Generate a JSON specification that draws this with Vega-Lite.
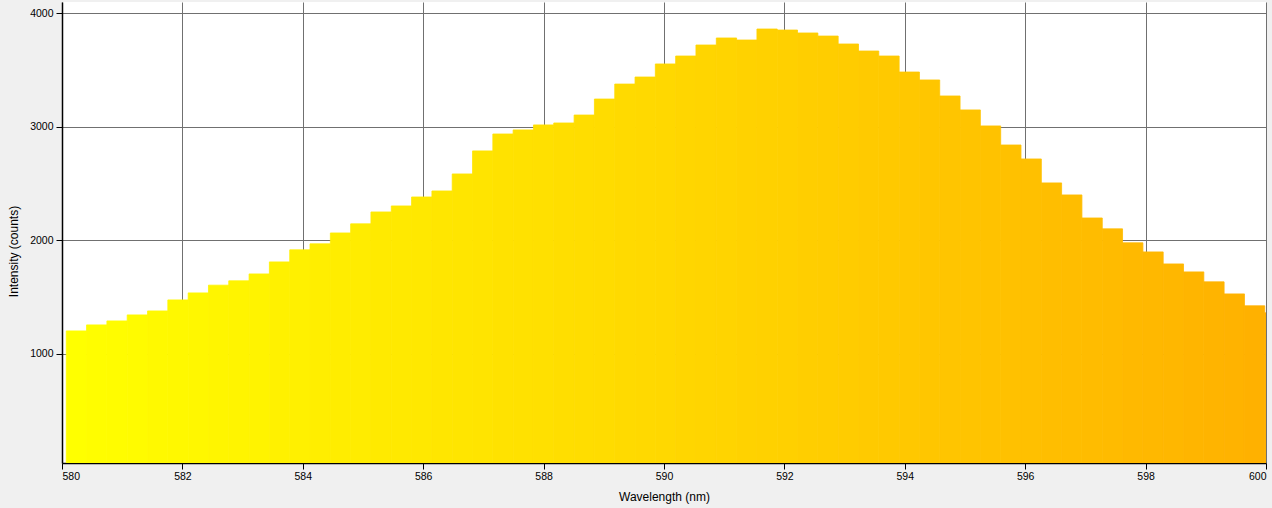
{
  "$schema": "https://vega.github.io/schema/vega-lite/v6.json",
  "width": 1204,
  "height": 461,
  "autosize": "none",
  "padding": {"left": 62, "top": 2, "right": 6, "bottom": 45},
  "background": "#f0f0f0",
  "config": {
    "view": {"fill": "white", "stroke": null},
    "font": "Liberation Sans",
    "axis": {
      "labelFont": "Liberation Sans",
      "labelFontSize": 10.5,
      "labelColor": "black",
      "titleFont": "Liberation Sans",
      "titleFontSize": 12,
      "titleFontWeight": "normal",
      "titleColor": "black",
      "domainColor": "black",
      "domainWidth": 1.5,
      "tickColor": "black",
      "tickSize": 6,
      "gridColor": "#707070",
      "gridOpacity": 1,
      "gridWidth": 1
    }
  },
  "data": {
    "values": [
      {"lo": 580.071, "hi": 580.408, "counts": 1202},
      {"lo": 580.408, "hi": 580.746, "counts": 1255},
      {"lo": 580.746, "hi": 581.083, "counts": 1290},
      {"lo": 581.083, "hi": 581.421, "counts": 1343},
      {"lo": 581.421, "hi": 581.758, "counts": 1378},
      {"lo": 581.758, "hi": 582.096, "counts": 1475},
      {"lo": 582.096, "hi": 582.433, "counts": 1537},
      {"lo": 582.433, "hi": 582.770, "counts": 1605},
      {"lo": 582.770, "hi": 583.108, "counts": 1643},
      {"lo": 583.108, "hi": 583.445, "counts": 1704},
      {"lo": 583.445, "hi": 583.783, "counts": 1810},
      {"lo": 583.783, "hi": 584.120, "counts": 1916},
      {"lo": 584.120, "hi": 584.458, "counts": 1969},
      {"lo": 584.458, "hi": 584.795, "counts": 2065},
      {"lo": 584.795, "hi": 585.132, "counts": 2145},
      {"lo": 585.132, "hi": 585.470, "counts": 2250},
      {"lo": 585.470, "hi": 585.807, "counts": 2303},
      {"lo": 585.807, "hi": 586.145, "counts": 2382},
      {"lo": 586.145, "hi": 586.482, "counts": 2435},
      {"lo": 586.482, "hi": 586.820, "counts": 2585},
      {"lo": 586.820, "hi": 587.157, "counts": 2788},
      {"lo": 587.157, "hi": 587.494, "counts": 2937},
      {"lo": 587.494, "hi": 587.832, "counts": 2973},
      {"lo": 587.832, "hi": 588.169, "counts": 3017},
      {"lo": 588.169, "hi": 588.507, "counts": 3034},
      {"lo": 588.507, "hi": 588.844, "counts": 3104},
      {"lo": 588.844, "hi": 589.182, "counts": 3245},
      {"lo": 589.182, "hi": 589.519, "counts": 3377},
      {"lo": 589.519, "hi": 589.856, "counts": 3439},
      {"lo": 589.856, "hi": 590.194, "counts": 3554},
      {"lo": 590.194, "hi": 590.531, "counts": 3624},
      {"lo": 590.531, "hi": 590.869, "counts": 3721},
      {"lo": 590.869, "hi": 591.206, "counts": 3783},
      {"lo": 591.206, "hi": 591.544, "counts": 3765},
      {"lo": 591.544, "hi": 591.881, "counts": 3862},
      {"lo": 591.881, "hi": 592.218, "counts": 3853},
      {"lo": 592.218, "hi": 592.556, "counts": 3827},
      {"lo": 592.556, "hi": 592.893, "counts": 3800},
      {"lo": 592.893, "hi": 593.231, "counts": 3730},
      {"lo": 593.231, "hi": 593.568, "counts": 3668},
      {"lo": 593.568, "hi": 593.906, "counts": 3624},
      {"lo": 593.906, "hi": 594.243, "counts": 3483},
      {"lo": 594.243, "hi": 594.580, "counts": 3413},
      {"lo": 594.580, "hi": 594.918, "counts": 3272},
      {"lo": 594.918, "hi": 595.255, "counts": 3149},
      {"lo": 595.255, "hi": 595.593, "counts": 3008},
      {"lo": 595.593, "hi": 595.930, "counts": 2840},
      {"lo": 595.930, "hi": 596.268, "counts": 2717},
      {"lo": 596.268, "hi": 596.605, "counts": 2506},
      {"lo": 596.605, "hi": 596.942, "counts": 2400},
      {"lo": 596.942, "hi": 597.280, "counts": 2197},
      {"lo": 597.280, "hi": 597.617, "counts": 2101},
      {"lo": 597.617, "hi": 597.955, "counts": 1978},
      {"lo": 597.955, "hi": 598.292, "counts": 1898},
      {"lo": 598.292, "hi": 598.630, "counts": 1792},
      {"lo": 598.630, "hi": 598.967, "counts": 1722},
      {"lo": 598.967, "hi": 599.304, "counts": 1634},
      {"lo": 599.304, "hi": 599.642, "counts": 1528},
      {"lo": 599.642, "hi": 599.979, "counts": 1423},
      {"lo": 599.979, "hi": 600.317, "counts": 1361}
    ]
  },
  "mark": {"type": "bar", "clip": true, "strokeWidth": 0.8},
  "encoding": {
    "x": {
      "field": "lo",
      "type": "quantitative",
      "title": "Wavelength (nm)",
      "scale": {"domain": [580, 600], "nice": false, "zero": false},
      "axis": {
        "values": [580, 582, 584, 586, 588, 590, 592, 594, 596, 598, 600],
        "format": "d",
        "labelPadding": 2,
        "titleY": 33,
        "titleBaseline": "middle"
      }
    },
    "x2": {"field": "hi"},
    "y": {
      "field": "counts",
      "type": "quantitative",
      "title": "Intensity (counts)",
      "scale": {"domain": [38, 4100], "nice": false, "zero": false},
      "axis": {
        "values": [1000, 2000, 3000, 4000],
        "format": "d",
        "labelPadding": 3,
        "titleX": -49,
        "titleY": 249,
        "titleBaseline": "middle",
        "titleAlign": "center"
      }
    },
    "y2": {"datum": 0},
    "color": {
      "field": "lo",
      "type": "quantitative",
      "scale": {"domain": [580, 600], "range": ["#ffff00", "#ffb000"]},
      "legend": null
    },
    "stroke": {
      "field": "lo",
      "type": "quantitative",
      "scale": {"domain": [580, 600], "range": ["#ffff00", "#ffb000"]},
      "legend": null
    }
  }
}
